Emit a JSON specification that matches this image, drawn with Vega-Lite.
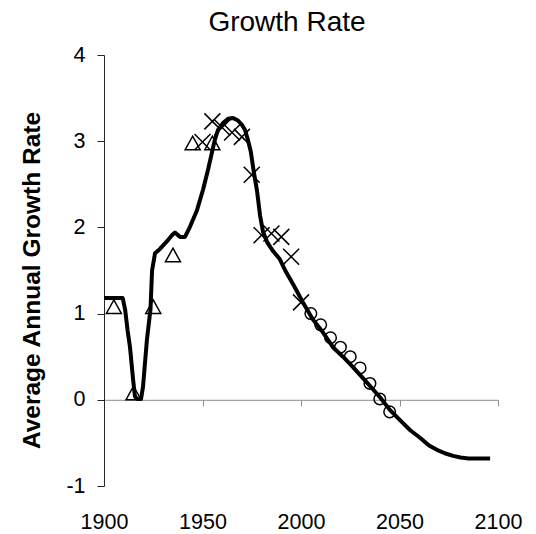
{
  "$schema": "https://vega.github.io/schema/vega-lite/v6.json",
  "autosize": {"type": "none"},
  "width": 394,
  "height": 431,
  "padding": {"left": 104, "top": 55, "right": 38, "bottom": 48},
  "background": "white",
  "config": {
    "view": {"stroke": null},
    "font": "Liberation Sans",
    "axis": {"grid": false, "labelFont": "Liberation Sans", "titleFont": "Liberation Sans", "labelColor": "black", "titleColor": "black"}
  },
  "title": {
    "text": "Growth Rate",
    "fontSize": 28,
    "fontWeight": "normal",
    "font": "Liberation Sans",
    "color": "black",
    "anchor": "middle",
    "dx": -14,
    "dy": 37,
    "offset": 22,
    "baseline": "alphabetic"
  },
  "datasets": {
    "line": [
      {"year": 1900, "value": 1.18}, {"year": 1909.5, "value": 1.18}, {"year": 1910.7, "value": 1.05},
      {"year": 1912, "value": 0.8}, {"year": 1913.2, "value": 0.61}, {"year": 1914.7, "value": 0.25},
      {"year": 1915.7, "value": 0.04}, {"year": 1916.8, "value": 0.01}, {"year": 1918.8, "value": 0.01},
      {"year": 1919.8, "value": 0.15}, {"year": 1921.8, "value": 0.7}, {"year": 1923.6, "value": 1.05},
      {"year": 1924.4, "value": 1.5}, {"year": 1925.9, "value": 1.7}, {"year": 1928.4, "value": 1.75},
      {"year": 1932, "value": 1.84}, {"year": 1934.5, "value": 1.91}, {"year": 1936, "value": 1.94},
      {"year": 1938.6, "value": 1.89}, {"year": 1941.1, "value": 1.89}, {"year": 1943.7, "value": 2.01},
      {"year": 1947.2, "value": 2.2}, {"year": 1950.3, "value": 2.44}, {"year": 1952.8, "value": 2.67},
      {"year": 1954.8, "value": 2.87}, {"year": 1956.3, "value": 3.02}, {"year": 1957.9, "value": 3.13},
      {"year": 1960.4, "value": 3.21}, {"year": 1963, "value": 3.26}, {"year": 1965.5, "value": 3.27},
      {"year": 1968, "value": 3.24}, {"year": 1970, "value": 3.19}, {"year": 1971.6, "value": 3.13},
      {"year": 1973, "value": 3.02}, {"year": 1974.5, "value": 2.88}, {"year": 1976, "value": 2.65},
      {"year": 1977.7, "value": 2.42}, {"year": 1979.2, "value": 2.14}, {"year": 1980.7, "value": 1.95},
      {"year": 1983, "value": 1.82}, {"year": 1986, "value": 1.72}, {"year": 1989.3, "value": 1.63},
      {"year": 1992, "value": 1.5}, {"year": 1996, "value": 1.34}, {"year": 2001, "value": 1.13},
      {"year": 2006.1, "value": 0.93}, {"year": 2011.2, "value": 0.78}, {"year": 2016.2, "value": 0.61},
      {"year": 2021.3, "value": 0.5}, {"year": 2026.4, "value": 0.38}, {"year": 2033.5, "value": 0.2},
      {"year": 2040.1, "value": 0.03}, {"year": 2045.2, "value": -0.12}, {"year": 2050, "value": -0.23},
      {"year": 2055.3, "value": -0.35}, {"year": 2060.4, "value": -0.44}, {"year": 2065, "value": -0.53},
      {"year": 2069, "value": -0.58}, {"year": 2073, "value": -0.62}, {"year": 2077.2, "value": -0.65},
      {"year": 2081, "value": -0.67}, {"year": 2085, "value": -0.68}, {"year": 2090, "value": -0.68},
      {"year": 2096, "value": -0.68}
    ],
    "points": [
      {"year": 1905, "value": 1.08, "series": "triangle"},
      {"year": 1915, "value": 0.08, "series": "triangle"},
      {"year": 1925, "value": 1.08, "series": "triangle"},
      {"year": 1935, "value": 1.68, "series": "triangle"},
      {"year": 1945, "value": 2.98, "series": "triangle"},
      {"year": 1955, "value": 2.98, "series": "triangle"},
      {"year": 1950, "value": 2.99, "series": "cross"},
      {"year": 1955, "value": 3.23, "series": "cross"},
      {"year": 1960, "value": 3.16, "series": "cross"},
      {"year": 1965, "value": 3.1, "series": "cross"},
      {"year": 1970, "value": 3.05, "series": "cross"},
      {"year": 1975, "value": 2.61, "series": "cross"},
      {"year": 1980, "value": 1.91, "series": "cross"},
      {"year": 1985, "value": 1.93, "series": "cross"},
      {"year": 1990, "value": 1.89, "series": "cross"},
      {"year": 1995, "value": 1.66, "series": "cross"},
      {"year": 2000, "value": 1.13, "series": "cross"},
      {"year": 2005, "value": 1.0, "series": "circle"},
      {"year": 2010, "value": 0.87, "series": "circle"},
      {"year": 2015, "value": 0.72, "series": "circle"},
      {"year": 2020, "value": 0.61, "series": "circle"},
      {"year": 2025, "value": 0.5, "series": "circle"},
      {"year": 2030, "value": 0.37, "series": "circle"},
      {"year": 2035, "value": 0.19, "series": "circle"},
      {"year": 2040, "value": 0.01, "series": "circle"},
      {"year": 2045, "value": -0.14, "series": "circle"}
    ]
  },
  "layer": [
    {
      "data": {"name": "line"},
      "mark": {"type": "line", "color": "black", "strokeWidth": 4, "strokeJoin": "round", "strokeCap": "butt"},
      "encoding": {
        "x": {"field": "year", "type": "quantitative",
          "scale": {"domain": [1900, 2100], "nice": false, "zero": false},
          "axis": {"orient": "bottom", "title": null, "domain": false, "ticks": false, "tickSize": 0,
            "values": [1900, 1950, 2000, 2050, 2100], "labelExpr": "'' + datum.value",
            "labelFontSize": 21.5, "labelBaseline": "alphabetic", "labelPadding": 42, "labelFlush": false, "labelOverlap": false}},
        "y": {"field": "value", "type": "quantitative",
          "scale": {"domain": [-1, 4], "nice": false, "zero": false},
          "axis": {"title": "Average Annual Growth Rate", "titleFontSize": 24.5, "titleFontWeight": "bold",
            "titleX": -72, "titleY": 225, "titleAngle": -90, "titleAlign": "center", "titleBaseline": "middle",
            "values": [-1, 0, 1, 2, 3, 4], "labelExpr": "'' + datum.value",
            "labelFontSize": 21.5, "labelPadding": 12, "tickSize": 7, "domainColor": "#262626", "tickColor": "#262626",
            "labelFlush": false, "labelOverlap": false}}
      }
    },
    {
      "data": {"name": "points"},
      "transform": [{"filter": "datum.series == 'triangle'"}],
      "mark": {"type": "point", "shape": "M0,-0.9L1,0.9L-1,0.9Z", "size": 225, "filled": false, "opacity": 1, "stroke": "black", "strokeWidth": 1.5, "fill": "transparent"},
      "encoding": {
        "x": {"field": "year", "type": "quantitative",
          "scale": {"domain": [1900, 2100], "nice": false, "zero": false},
          "axis": {"orient": "bottom", "offset": -86.2, "title": null, "labels": false, "domainColor": "#8c8c8c", "tickColor": "#8c8c8c",
            "tickSize": 6, "values": [1900, 1950, 2000, 2050, 2100]}},
        "y": {"field": "value", "type": "quantitative"}
      }
    },
    {
      "data": {"name": "points"},
      "transform": [{"filter": "datum.series == 'cross'"}],
      "mark": {"type": "point", "shape": "M-1,-1L1,1M1,-1L-1,1", "size": 256, "filled": false, "opacity": 1, "stroke": "black", "strokeWidth": 1.5},
      "encoding": {
        "x": {"field": "year", "type": "quantitative", "axis": null},
        "y": {"field": "value", "type": "quantitative"}
      }
    },
    {
      "data": {"name": "points"},
      "transform": [{"filter": "datum.series == 'circle'"}],
      "mark": {"type": "point", "shape": "circle", "size": 133, "filled": false, "opacity": 1, "stroke": "black", "strokeWidth": 1.5, "fill": "transparent"},
      "encoding": {
        "x": {"field": "year", "type": "quantitative", "axis": null},
        "y": {"field": "value", "type": "quantitative"}
      }
    }
  ],
  "resolve": {"axis": {"x": "independent"}}
}
